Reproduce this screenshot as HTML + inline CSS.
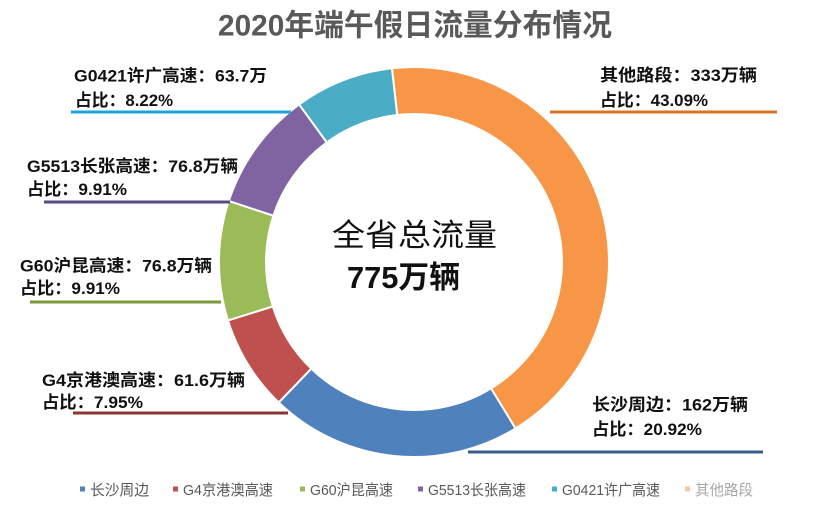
<!DOCTYPE html>
<html><head><meta charset="utf-8">
<style>
html,body{margin:0;padding:0;background:#fff;}
svg{display:block;}
.lb{font-family:"Liberation Sans","Noto Sans CJK SC",sans-serif;font-weight:bold;font-size:17px;fill:#111;}
.lg{font-family:"Liberation Sans","Noto Sans CJK SC",sans-serif;font-size:15px;fill:#595959;}
</style></head>
<body>
<svg width="828" height="514" viewBox="0 0 828 514" xmlns="http://www.w3.org/2000/svg">
<rect width="828" height="514" fill="#fff"/>
<text x="218" y="35.5" textLength="394" lengthAdjust="spacingAndGlyphs" style="font-family:'Liberation Sans','Noto Sans CJK SC',sans-serif;font-weight:bold;font-size:30px;fill:#595959;">2020年端午假日流量分布情况</text>

<g stroke="#fff" stroke-width="2" stroke-linejoin="round">
<path fill="#f79646" d="M391.93,68.25 A195,195 0 0 1 515.54,428.47 L491.06,388.35 A148,148 0 0 0 397.25,114.95 Z"/>
<path fill="#4f81bd" d="M515.54,428.47 A195,195 0 0 1 278.73,402.46 L311.33,368.60 A148,148 0 0 0 491.06,388.35 Z"/>
<path fill="#c0504d" d="M278.73,402.46 A195,195 0 0 1 227.97,320.48 L272.81,306.39 A148,148 0 0 0 311.33,368.60 Z"/>
<path fill="#9bbb59" d="M227.97,320.48 A195,195 0 0 1 228.79,200.98 L273.43,215.69 A148,148 0 0 0 272.81,306.39 Z"/>
<path fill="#8064a2" d="M228.79,200.98 A195,195 0 0 1 299.13,104.42 L326.81,142.40 A148,148 0 0 0 273.43,215.69 Z"/>
<path fill="#4bacc6" d="M299.13,104.42 A195,195 0 0 1 391.93,68.25 L397.25,114.95 A148,148 0 0 0 326.81,142.40 Z"/>
</g>

<!-- leader lines -->
<g stroke-width="3" fill="none">
<line x1="71" y1="112" x2="291" y2="112" stroke="#1ea3dc"/>
<line x1="44" y1="202" x2="230" y2="202" stroke="#5c4884"/>
<line x1="30" y1="302" x2="221" y2="302" stroke="#7a9a3b"/>
<line x1="73" y1="413" x2="288" y2="413" stroke="#8c3434"/>
<line x1="550" y1="112" x2="777" y2="112" stroke="#d4762a"/>
<line x1="468" y1="452" x2="763" y2="452" stroke="#3c5a8a"/>
</g>

<!-- labels -->
<text class="lb" x="74" y="81.5" textLength="193" lengthAdjust="spacingAndGlyphs">G0421许广高速：63.7万</text>
<text class="lb" x="75" y="106" textLength="98" lengthAdjust="spacingAndGlyphs">占比：8.22%</text>

<text class="lb" x="27" y="172" textLength="211" lengthAdjust="spacingAndGlyphs">G5513长张高速：76.8万辆</text>
<text class="lb" x="27" y="195" textLength="100" lengthAdjust="spacingAndGlyphs">占比：9.91%</text>

<text class="lb" x="20" y="271.5" textLength="192" lengthAdjust="spacingAndGlyphs">G60沪昆高速：76.8万辆</text>
<text class="lb" x="20" y="294" textLength="100" lengthAdjust="spacingAndGlyphs">占比：9.91%</text>

<text class="lb" x="42" y="386" textLength="203" lengthAdjust="spacingAndGlyphs">G4京港澳高速：61.6万辆</text>
<text class="lb" x="42" y="408" textLength="101" lengthAdjust="spacingAndGlyphs">占比：7.95%</text>

<text class="lb" x="600" y="81" textLength="157" lengthAdjust="spacingAndGlyphs">其他路段：333万辆</text>
<text class="lb" x="600" y="106" textLength="108" lengthAdjust="spacingAndGlyphs">占比：43.09%</text>

<text class="lb" x="592" y="410.5" textLength="156" lengthAdjust="spacingAndGlyphs">长沙周边：162万辆</text>
<text class="lb" x="592" y="435" textLength="110" lengthAdjust="spacingAndGlyphs">占比：20.92%</text>

<!-- center -->
<text x="332" y="246" textLength="165" lengthAdjust="spacingAndGlyphs" style="font-family:'Liberation Sans','Noto Sans CJK SC',sans-serif;font-size:31px;fill:#111;">全省总流量</text>
<text x="347" y="288" textLength="113" lengthAdjust="spacingAndGlyphs" style="font-family:'Liberation Sans','Noto Sans CJK SC',sans-serif;font-weight:bold;font-size:31px;fill:#111;">775万辆</text>

<!-- legend -->
<rect x="80" y="486.5" width="5" height="5" fill="#4f81bd"/>
<text class="lg" x="90" y="495" textLength="59" lengthAdjust="spacingAndGlyphs">长沙周边</text>
<rect x="173" y="486.5" width="5" height="5" fill="#c0504d"/>
<text class="lg" x="183" y="495" textLength="90" lengthAdjust="spacingAndGlyphs">G4京港澳高速</text>
<rect x="300" y="486.5" width="5" height="5" fill="#9bbb59"/>
<text class="lg" x="310" y="495" textLength="83" lengthAdjust="spacingAndGlyphs">G60沪昆高速</text>
<rect x="418" y="486.5" width="5" height="5" fill="#8064a2"/>
<text class="lg" x="428" y="495" textLength="98" lengthAdjust="spacingAndGlyphs">G5513长张高速</text>
<rect x="552" y="486.5" width="5" height="5" fill="#4bacc6"/>
<text class="lg" x="562" y="495" textLength="98" lengthAdjust="spacingAndGlyphs">G0421许广高速</text>
<rect x="685" y="486.5" width="5" height="5" fill="#f6c9a4"/>
<text class="lg" x="695" y="495" textLength="58" lengthAdjust="spacingAndGlyphs" style="fill:#a8a8a8;">其他路段</text>
</svg>
</body></html>
